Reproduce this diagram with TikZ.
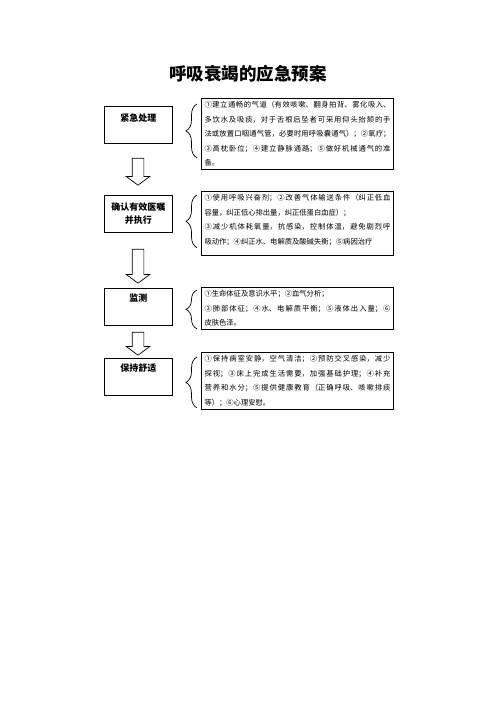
\documentclass[tikz,border=0pt]{standalone}
\usepackage{fontspec}
\setmainfont{Noto Sans CJK SC}
\usetikzlibrary{shapes.arrows,decorations.pathreplacing}
\XeTeXlinebreaklocale "zh"
\XeTeXlinebreakskip=0pt plus 1pt

\begin{document}
\begin{tikzpicture}[
    x=1pt, y=-1pt,
    stepbox/.style={draw, line width=0.9pt, minimum width=68pt, minimum height=37pt, anchor=north west, inner sep=0pt},
    steptext/.style={font=\bfseries\fontsize{9}{13}\selectfont, align=center, anchor=north, inner sep=0pt},
    infobox/.style={draw, line width=1pt, anchor=north west, text width=186pt, inner xsep=3pt, inner ysep=3pt, align=justify, font=\fontsize{7.3}{14.5}\selectfont},
    bracket/.style={decorate, decoration={brace, amplitude=11pt}, line width=0.7pt},
    downarrow/.style={draw, line width=0.7pt, single arrow, shape border rotate=270, inner sep=5.5pt, single arrow head extend=6pt, single arrow tip angle=107}
]
\useasboundingbox (0,0) rectangle (496,702);

\node[font=\bfseries\fontsize{17.5}{20}\selectfont] (title) at (248,74) {呼吸衰竭的应急预案};

% left column
\node[stepbox] (b1) at (104,106) {};
\node[stepbox] (b2) at (104,195) {};
\node[stepbox] (b3) at (104,288) {};
\node[stepbox] (b4) at (104,358) {};
\node[steptext] (t1) at ([yshift=-8pt]b1.north) {紧急处理};
\node[steptext] (t2) at ([yshift=-8pt]b2.north) {确认有效医嘱\\并执行};
\node[steptext] (t3) at ([yshift=-6pt]b3.north) {监测};
\node[steptext] (t4) at ([yshift=-6pt]b4.north) {保持舒适};

% arrows
\node[downarrow, minimum height=27pt] (a1) at (138,169.5) {};
\node[downarrow, minimum height=34pt] (a2) at (138,264) {};
\node[downarrow, minimum height=23pt] (a3) at (138,341.5) {};

% right column
\node[infobox] (r1) at (201,98) {\parfillskip=0pt
①建立通畅的气道（有效咳嗽、翻身拍背、雾化吸入、\linebreak
多饮水及吸痰，对于舌根后坠者可采用仰头抬颏的手\linebreak
法或放置口咽通气管，必要时用呼吸囊通气）；②氧疗；\linebreak
③高枕卧位；④建立静脉通路；⑤做好机械通气的准\linebreak
备。\hspace*{\fill}};
\node[infobox] (r2) at (201,191) {\parfillskip=0pt
①使用呼吸兴奋剂；②改善气体输送条件（纠正低血\linebreak
容量，纠正低心排出量，纠正低蛋白血症）；\\
③减少机体耗氧量，抗感染，控制体温，避免剧烈呼\linebreak
吸动作；④纠正水、电解质及酸碱失衡；⑤病因治疗\rule[-8pt]{0pt}{8pt}};
\node[infobox] (r3) at (201,287) {\parfillskip=0pt
①生命体征及意识水平；②血气分析；\\
③肺部体征；④水、电解质平衡；⑤液体出入量；⑥\linebreak
皮肤色泽。\hspace*{\fill}};
\node[infobox] (r4) at (201,352) {\parfillskip=0pt
①保持病室安静，空气清洁；②预防交叉感染，减少\linebreak
探视；③床上完成生活需要，加强基础护理；④补充\linebreak
营养和水分；⑤提供健康教育（正确呼吸、咳嗽排痰\linebreak
等）；⑥心理安慰。\hspace*{\fill}};

% braces
\draw[bracket] ([xshift=-4pt,yshift=12pt]r1.south west) -- ([xshift=-4pt,yshift=-6pt]r1.north west);
\draw[bracket] ([xshift=-4pt,yshift=8pt]r2.south west) -- ([xshift=-4pt,yshift=-4pt]r2.north west);
\draw[bracket] ([xshift=-4pt,yshift=1pt]r3.south west) -- ([xshift=-4pt,yshift=-3pt]r3.north west);
\draw[bracket] ([xshift=-4pt,yshift=2pt]r4.south west) -- ([xshift=-4pt,yshift=-5pt]r4.north west);
\end{tikzpicture}
\end{document}
